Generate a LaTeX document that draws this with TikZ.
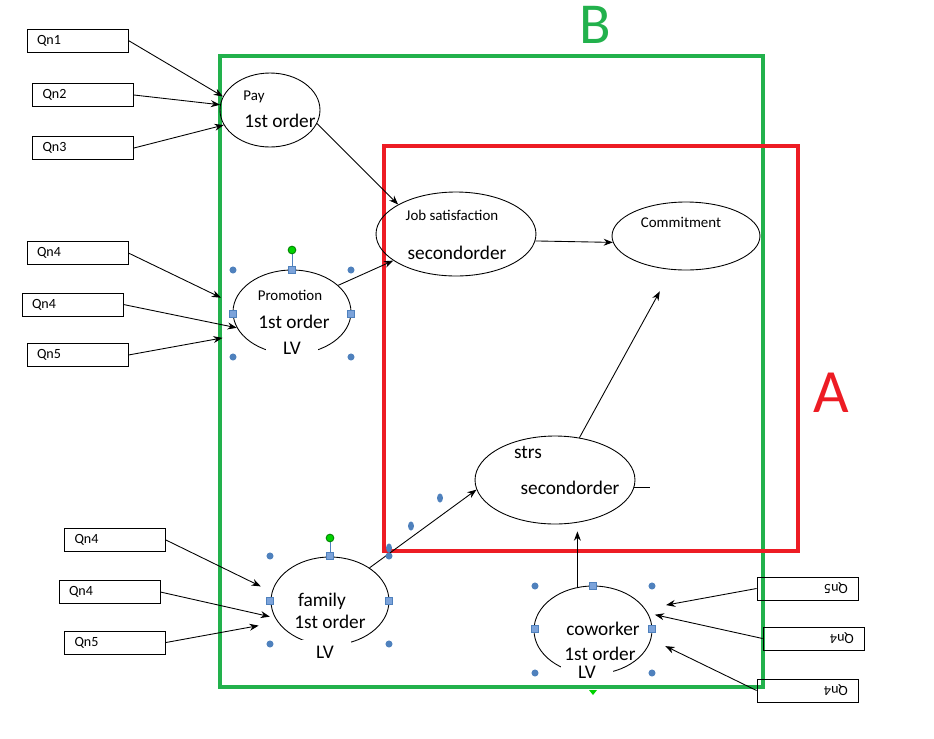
\documentclass[tikz,border=0pt]{standalone}
\usepackage{fontspec}
\setmainfont{Carlito}
\usetikzlibrary{shapes, arrows.meta, positioning, calc}

\definecolor{frameB}{RGB}{34,177,76}
\definecolor{frameA}{RGB}{237,28,36}
\definecolor{handleblue}{RGB}{79,129,189}
\definecolor{handlefill}{RGB}{124,163,218}
\definecolor{rotgreen}{RGB}{0,210,0}

\begin{document}
\begin{tikzpicture}[x=0.02cm, y=-0.02cm, >=Stealth, line width=0.5pt,
    qbox/.style={draw, rectangle, minimum width=2.02cm, minimum height=0.46cm, text width=1.62cm, inner xsep=0.2cm, inner ysep=0pt, align=left, font=\fontsize{8}{9}\selectfont},
    qboxr/.style={qbox, align=right},
    lv/.style={draw, ellipse, inner sep=0pt},
    small/.style={font=\fontsize{8.5}{10}\selectfont, inner sep=1pt},
    big/.style={font=\fontsize{11}{13}\selectfont, inner sep=1pt},
    gap/.style={big, fill=white, minimum width=1.05cm, minimum height=0.5cm},
    link/.style={->}]
    \useasboundingbox (0,0) rectangle (934,738);

    % Frames
    \draw[frameB, line width=2.3pt] (220,56) rectangle (763,687);
    \draw[frameA, line width=2.3pt] (384,146) rectangle (798,551);
    \node[frameB, font=\fontsize{33}{36}\selectfont] (labB) at (595,25) {B};
    \node[frameA, font=\fontsize{35}{38}\selectfont] (labA) at (831,393) {A};

    % Latent variables
    \node[lv, minimum width=2.0cm, minimum height=1.48cm] (pay) at (270,110) {};
    \node[lv, minimum width=3.2cm, minimum height=1.68cm] (job) at (456,234) {};
    \node[lv, minimum width=2.96cm, minimum height=1.36cm] (com) at (686,236) {};
    \node[lv, minimum width=2.36cm, minimum height=1.68cm] (prom) at (292,312) {};
    \node[lv, minimum width=3.2cm, minimum height=1.76cm] (strs) at (555,480) {};
    \node[lv, minimum width=2.36cm, minimum height=1.76cm] (fam) at (330,601) {};
    \node[lv, minimum width=2.36cm, minimum height=1.76cm] (cow) at (593,630) {};

    % Texts
    \node[small] (pay-t) at (254,97) {Pay};
    \node[big] (pay-o) at (280,121) {1st order};
    \node[small] (job-t) at (452,215) {Job satisfaction};
    \node[big] (job-o) at (457,253) {secondorder};
    \node[small] (com-t) at (681,222) {Commitment};
    \node[small] (prom-t) at (290,295) {Promotion};
    \node[big] (prom-o) at (294,322) {1st order};
    \node[gap] (prom-lv) at (292,348) {LV};
    \node[big] (strs-t) at (528,452) {strs};
    \node[big] (strs-o) at (570,488) {secondorder};
    \node[big] (fam-t) at (322,601) {family};
    \node[big] (fam-o) at (330,622) {1st order};
    \node[gap] (fam-lv) at (325,652) {LV};
    \node[big] (cow-t) at (603,629) {coworker};
    \node[big] (cow-o) at (600,654) {1st order};
    \node[gap] (cow-lv) at (587,672) {LV};

    % Questions
    \node[qbox] (q1) at (77.5,40.5) {Qn1};
    \node[qbox] (q2) at (83,95) {Qn2};
    \node[qbox] (q3) at (83,148) {Qn3};
    \node[qbox] (q4) at (77.5,253) {Qn4};
    \node[qbox] (q5) at (72.5,304.5) {Qn4};
    \node[qbox] (q6) at (77.5,355) {Qn5};
    \node[qbox] (q7) at (115,540) {Qn4};
    \node[qbox] (q8) at (109.5,592) {Qn4};
    \node[qbox] (q9) at (115,642.5) {Qn5};
    \node[qboxr] (r1) at (807.5,588.5) {\rotatebox{180}{Qn5}};
    \node[qboxr] (r2) at (813.5,638.5) {\rotatebox{180}{Qn4}};
    \node[qboxr] (r3) at (807.5,690.5) {\rotatebox{180}{Qn4}};

    % Indicator arrows
    \draw[link] (q1.east) -- (pay.164);
    \draw[link] (q2.east) -- (pay.174);
    \draw[link] (q3.east) -- (pay.198);
    \draw[link, shorten >=8pt] (q4.east) -- (prom.172);
    \draw[link] (q5.east) -- (prom.196);
    \draw[link, shorten >=11pt] (q6.east) -- (prom.204);
    \draw[link, shorten >=7pt] (q7.east) -- (fam.171);
    \draw[link, shorten >=3pt] (q8.east) -- (fam.197);
    \draw[link, shorten >=11pt] (q9.east) -- (fam.202);
    \draw[link, shorten >=12pt] (r1.west) -- (cow.22);
    \draw[link, shorten >=4pt] (r2.west) -- (cow.17);
    \draw[link, shorten >=9pt] (r3.west) -- (cow.351);

    % Structural paths
    \draw[link] (pay.344) -- (job.153);
    \draw[link] (prom.30) -- (job.203);
    \draw[link] (job.355) -- (com.185);
    \draw[link, shorten >=14pt] (strs.60) -- (com.247);
    \draw[link] (fam.40) -- (strs.187);
    \draw[link, shorten >=4pt] (cow.110) -- (cow.110 |- strs.south);
    \draw (strs.355) -- ++(16,0);

    % Selection handles
    \foreach \p in {(233,270),(351,270),(233,357),(351,357),
                    (270,556),(389,556),(270,644),(389,644),
                    (535,586),(652,586),(535,673),(652,673)}
      \fill[handleblue] \p circle (2pt);
    \foreach \p in {(440,498),(411,526),(389,548)}
      \fill[handleblue] \p ellipse (1.7pt and 2.6pt);
    \draw[handleblue] (292,250) -- (292,270);
    \draw[handleblue] (330,538) -- (330,556);
    \foreach \p in {(292,270),(233,314),(351,314),
                    (330,556),(270,601),(389,601),
                    (593,586),(535,629),(652,629)}
      \filldraw[fill=handlefill, draw=handleblue] \p ++(-3.5,-3.5) rectangle ++(7,7);
    \filldraw[fill=rotgreen, draw=green!50!black] (292,250) circle (2.2pt);
    \filldraw[fill=rotgreen, draw=green!50!black] (330,538) circle (2.2pt);
    \fill[rotgreen] (589,690) -- (597,690) -- (593,695) -- cycle;
\end{tikzpicture}
\end{document}
